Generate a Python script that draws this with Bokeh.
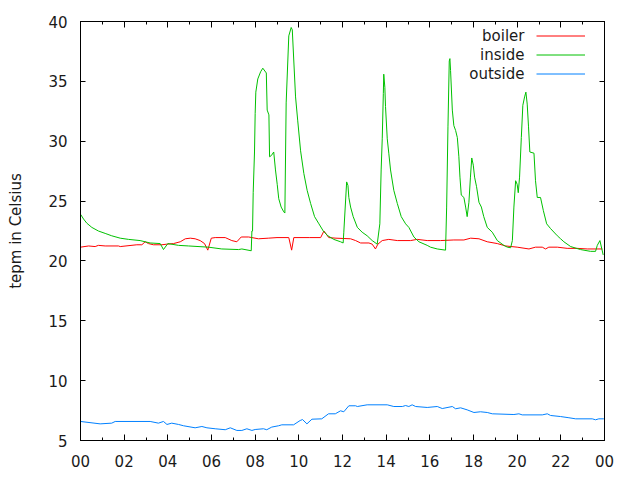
from bokeh.plotting import figure
from bokeh.models import Range1d, FixedTicker, LinearAxis, Label, Legend, LegendItem
from bokeh.embed import file_html
from bokeh.resources import INLINE

# ---- data (hour of day, temperature in Celsius) ----
boiler_h = [0.00, 0.37, 0.67, 0.82, 1.13, 1.74, 1.82, 2.58, 2.81, 2.96, 3.11, 3.34, 3.73, 3.95,
            4.26, 4.57, 4.80, 5.03, 5.25, 5.48, 5.68, 5.83, 5.99, 6.17, 6.63, 6.93, 7.16, 7.36,
            7.70, 8.15, 8.60, 9.00, 9.54, 9.67, 9.77, 10.50, 11.00, 11.15, 11.37, 11.70, 12.37,
            12.60, 12.83, 13.21, 13.36, 13.51, 13.62, 13.82, 14.12, 14.51, 15.12, 15.42, 15.88,
            16.49, 17.10, 17.56, 17.87, 18.25, 18.63, 19.09, 19.47, 20.00, 20.54, 20.84, 21.15,
            21.30, 21.45, 21.84, 22.29, 22.75, 23.21, 23.90]
boiler_t = [21.15, 21.25, 21.2, 21.3, 21.25, 21.25, 21.2, 21.35, 21.35, 21.6, 21.45, 21.35, 21.35, 21.4,
            21.45, 21.6, 21.85, 21.9, 21.85, 21.7, 21.45, 20.9, 21.9, 21.95, 21.95, 21.7, 21.6, 22.0,
            22.0, 21.85, 21.9, 21.95, 21.95, 20.9, 21.95, 21.95, 21.95, 22.5, 21.95, 21.9, 21.85,
            21.7, 21.5, 21.5, 21.4, 21.0, 21.4, 21.7, 21.8, 21.7, 21.7, 21.8, 21.7,
            21.7, 21.75, 21.75, 21.9, 21.85, 21.6, 21.45, 21.25, 21.15, 21.0, 21.15, 21.15,
            21.0, 21.15, 21.15, 21.05, 21.05, 21.0, 21.0]

inside_h = [0.00, 0.14, 0.29, 0.52, 0.82, 1.13, 1.43, 1.82, 2.20, 2.73, 2.96, 3.19, 3.65, 3.80, 4.00,
            4.49, 4.95, 5.86, 6.47, 7.24, 7.39, 7.82, 7.85, 7.88, 7.91, 7.97, 8.00, 8.03, 8.12, 8.25,
            8.35, 8.51, 8.55, 8.63, 8.66, 8.74, 8.85, 8.93, 9.01, 9.08, 9.19, 9.31, 9.36, 9.42, 9.54,
            9.65, 9.70, 9.77, 9.85, 9.95, 10.08, 10.23, 10.38, 10.54, 10.72, 10.92, 11.12, 11.33,
            11.60, 11.91, 12.03, 12.06, 12.19, 12.25, 12.29, 12.37, 12.49, 12.68, 12.90, 13.13, 13.36,
            13.59, 13.71, 13.77, 13.82, 13.87, 13.89, 13.94, 13.97, 14.05, 14.12, 14.20, 14.35, 14.51,
            14.69, 14.89, 15.04, 15.27, 15.50, 15.88, 16.03, 16.34, 16.72, 16.77, 16.83, 16.89, 16.92,
            16.95, 17.03, 17.10, 17.18, 17.26, 17.33, 17.38, 17.44, 17.56, 17.64, 17.71, 17.79, 17.86,
            17.92, 17.99, 18.05, 18.14, 18.25, 18.36, 18.47, 18.63, 18.86, 19.09, 19.39, 19.55, 19.70,
            19.78, 19.85, 19.93, 20.00, 20.05, 20.11, 20.19, 20.26, 20.34, 20.40, 20.46, 20.52, 20.58,
            20.77, 20.84, 20.92, 21.07, 21.20, 21.35, 21.53, 21.84, 21.99, 22.14, 22.45, 22.90, 23.36,
            23.59, 23.67, 23.79, 23.94]
inside_t = [23.9, 23.5, 23.15, 22.8, 22.5, 22.3, 22.1, 21.9, 21.8, 21.7, 21.6, 21.5, 21.45, 20.95, 21.45,
            21.3, 21.25, 21.15, 21.0, 20.95, 21.0, 20.85, 22.5, 22.5, 25.7, 29.1, 32.3, 34.1, 35.2, 35.8,
            36.1, 35.7, 32.6, 32.2, 28.7, 28.8, 29.1, 27.6, 26.4, 25.2, 24.5, 24.1, 24.0, 33.2, 38.8,
            39.5, 39.3, 36.7, 33.7, 31.7, 29.2, 27.3, 25.9, 24.8, 23.7, 23.1, 22.5, 22.1,
            21.8, 21.6, 21.5, 22.4, 26.6, 26.3, 25.3, 24.5, 23.7, 22.8, 22.4, 22.1, 21.7,
            21.4, 23.1, 27.6, 30.2, 34.0, 35.6, 34.5, 32.9, 30.2, 29.0, 27.6, 25.9, 24.8,
            23.7, 23.1, 22.8, 22.0, 21.6, 21.3, 21.15, 21.0, 20.9, 24.5, 31.2, 36.7, 36.9,
            35.9, 32.6, 31.3, 30.9, 30.3, 28.7, 27.0, 25.5, 25.3, 24.5, 23.7, 24.9, 27.0,
            28.6, 28.0, 27.0, 26.2, 24.9, 24.5, 23.7, 22.8, 22.4, 21.7, 21.3, 21.15, 21.1,
            21.7, 24.5, 26.7, 26.4, 25.7, 27.0, 30.3, 33.0, 33.7, 34.1, 33.1, 31.2, 29.1,
            29.0, 26.7, 25.3, 25.3, 24.2, 23.1, 22.7, 22.1, 21.85, 21.6, 21.2, 20.95, 20.8,
            20.8, 21.3, 21.7, 20.5]

outside_h = [0.00, 0.90, 1.43, 1.59, 3.19, 3.57, 3.80, 3.96, 4.18, 4.49, 4.72, 5.25, 5.56, 5.79, 6.17,
             6.63, 6.86, 7.16, 7.39, 7.62, 7.85, 8.00, 8.38, 8.53, 8.76, 9.07, 9.22, 9.76, 10.06,
             10.17, 10.37, 10.60, 11.05, 11.36, 11.67, 11.91, 12.06, 12.29, 12.60, 12.68, 13.13,
             14.05, 14.35, 14.74, 14.89, 15.04, 15.19, 15.35, 15.88, 16.34, 16.57, 17.03, 17.18,
             17.41, 17.71, 18.02, 18.32, 18.63, 18.86, 19.85, 20.08, 20.23, 21.15, 21.38, 21.53,
             21.99, 22.37, 22.68, 23.44, 23.59, 23.74, 23.97]
outside_t = [6.59, 6.39, 6.45, 6.59, 6.59, 6.45, 6.59, 6.34, 6.45, 6.34, 6.23, 6.06, 6.17, 6.06, 5.98,
             5.9, 6.06, 5.84, 5.84, 5.98, 5.84, 5.92, 5.98, 5.9, 6.12, 6.23, 6.31, 6.31, 6.67,
             6.75, 6.39, 6.78, 6.81, 7.23, 7.23, 7.48, 7.4, 7.9, 7.9, 7.84, 7.98,
             7.98, 7.84, 7.84, 7.92, 7.84, 7.98, 7.84, 7.76, 7.84, 7.67, 7.84, 7.65,
             7.73, 7.56, 7.34, 7.4, 7.34, 7.23, 7.17, 7.23, 7.14, 7.14, 7.23, 7.09,
             7.0, 6.9, 6.81, 6.81, 6.73, 6.81, 6.81]

series_names = ["boiler", "inside", "outside"]
series_colors = ["#ff0000", "#00c000", "#0080ff"]

x_ticks = [0, 2, 4, 6, 8, 10, 12, 14, 16, 18, 20, 22, 24]
x_tick_labels = ["00", "02", "04", "06", "08", "10", "12", "14", "16", "18", "20", "22", "00"]
x_minor_ticks = list(range(0, 25))
y_ticks = [5, 10, 15, 20, 25, 30, 35, 40]

FONT = "DejaVu Sans"
FS = "15px"
TXT = "#1a1a1a"

W, H = 632, 472
B_LEFT, B_TOP, B_RIGHT, B_BOTTOM = 80, 21, 28, 32

p = figure(width=W, height=H, output_backend="svg", toolbar_location=None,
           x_range=Range1d(0, 24), y_range=Range1d(5, 40),
           min_border_left=B_LEFT, min_border_right=B_RIGHT,
           min_border_top=B_TOP, min_border_bottom=B_BOTTOM)
p.xgrid.visible = False
p.ygrid.visible = False
p.outline_line_color = "black"
p.outline_line_width = 1
p.background_fill_color = "white"
p.border_fill_color = "white"

xt = FixedTicker(ticks=x_ticks, minor_ticks=x_minor_ticks)
yt = FixedTicker(ticks=y_ticks, minor_ticks=[])

def style(ax, minor=True):
    ax.axis_line_color = "black"
    ax.major_tick_line_color = "black"
    ax.minor_tick_line_color = "black"
    ax.major_tick_in = 6
    ax.major_tick_out = 0
    ax.minor_tick_in = 3 if minor else 0
    ax.minor_tick_out = 0
    ax.major_label_text_font = FONT
    ax.major_label_text_font_size = FS
    ax.major_label_text_color = TXT
    ax.axis_label_text_font = FONT
    ax.axis_label_text_font_size = FS
    ax.axis_label_text_font_style = "normal"
    ax.axis_label_text_color = TXT

xa = p.xaxis[0]
xa.ticker = xt
xa.major_label_overrides = {t: l for t, l in zip(x_ticks, x_tick_labels)}
style(xa)
xa.major_label_standoff = 14

ya = p.yaxis[0]
ya.ticker = yt
style(ya, minor=False)
ya.major_tick_in = 5
ya.major_label_standoff = 13
ya.axis_label = "tepm in Celsius"
ya.axis_label_standoff = 20

top = LinearAxis(ticker=xt, major_label_overrides={t: "" for t in x_ticks})
style(top)
top.major_label_standoff = 0
p.add_layout(top, "above")

right = LinearAxis(ticker=yt, major_label_overrides={t: "" for t in y_ticks})
style(right, minor=False)
right.major_tick_in = 5
right.major_label_standoff = 0
p.add_layout(right, "right")

renderers = []
data = [(boiler_h, boiler_t), (inside_h, inside_t), (outside_h, outside_t)]
for (hx, ty), c in zip(data, series_colors):
    renderers.append(p.line(hx, ty, line_color=c, line_width=1))

# legend: gnuplot style (text right-aligned, sample line to the right)
frame_h = H - B_TOP - B_BOTTOM
ROW = 19
for i, name in enumerate(series_names):
    yy = frame_h - 14 - ROW * i
    p.add_layout(Label(x=444, y=yy, x_units="screen", y_units="screen", text=name,
                       text_align="right", text_baseline="middle",
                       text_font=FONT, text_font_size=FS, text_color=TXT))

swatches = Legend(items=[LegendItem(label="", renderers=[r]) for r in renderers],
                  location=(456, frame_h - 4.5 - ROW * len(renderers)),
                  orientation="vertical", margin=0, padding=0, spacing=0,
                  glyph_width=49, glyph_height=ROW, label_height=ROW, label_width=0,
                  label_standoff=0, border_line_alpha=0, background_fill_alpha=0,
                  label_text_font_size="1px")
p.add_layout(swatches, "center")

open("out.html", "w").write(file_html(p, INLINE))
